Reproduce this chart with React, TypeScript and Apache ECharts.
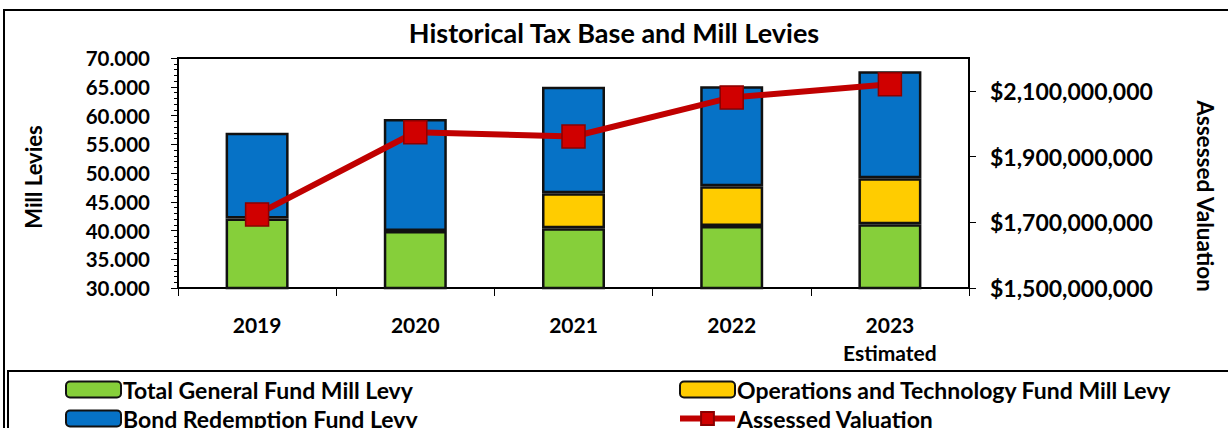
import React, { useEffect, useRef } from "react";
import * as echarts from "echarts";

const categories = ["2019", "2020", "2021", "2022", "2023\nEstimated"];
const generalFund = [42.1, 39.9, 40.4, 40.8, 41.1];
const operationsTech = [null, null, 6.1, 6.9, 8.0];
const bondRedemption = [14.9, 19.5, 18.5, 17.4, 18.6];
const assessedValuation = [1724000000, 1974000000, 1961000000, 2080000000, 2120000000];

const FONT = "Lato";

export default function App() {
  const ref = useRef<HTMLDivElement>(null);
  useEffect(() => {
    const chart = echarts.init(ref.current!, null, { renderer: "svg" });
    const barBase = {
      type: "bar",
      stack: "levy",
      barWidth: 63,
      yAxisIndex: 0,
    };
    const legendText = { fontFamily: FONT, fontWeight: "bold", fontSize: 23, color: "#000", padding: [0, 0, 0, -3] };
    chart.setOption({
      animation: false,
      backgroundColor: "#fff",
      textStyle: { fontFamily: FONT, fontWeight: "bold", color: "#000" },
      title: {
        text: "Historical Tax Base and Mill Levies",
        left: "center",
        top: 14,
        textStyle: { fontFamily: FONT, fontWeight: "bold", fontSize: 27, color: "#000" },
      },
      grid: { left: 178, right: 259, top: 58, bottom: 140, show: true, borderColor: "#000", borderWidth: 2, backgroundColor: "transparent" },
      graphic: [
        { type: "rect", shape: { x: 4, y: 10, width: 1240, height: 460 }, style: { fill: "none", stroke: "#000", lineWidth: 2 }, z: -1 },
        { type: "rect", shape: { x: 8, y: 371, width: 1240, height: 100 }, style: { fill: "#fff", stroke: "#000", lineWidth: 2 }, z: 0 },
        { type: "text", x: 33, y: 177, rotation: Math.PI / 2, style: { text: "Mill Levies", fontFamily: FONT, fontWeight: "bold", fontSize: 22, fill: "#000", align: "center", verticalAlign: "middle" } },
        { type: "text", x: 1205, y: 196, rotation: -Math.PI / 2, style: { text: "Assessed Valuation", fontFamily: FONT, fontWeight: "bold", fontSize: 22.5, fill: "#000", align: "center", verticalAlign: "middle" } },
      ],
      legend: [
        {
          data: ["Total General Fund Mill Levy", "Bond Redemption Fund Levy"],
          orient: "vertical",
          left: 65,
          top: 378,
          height: 120,
          padding: 0,
          itemWidth: 55,
          itemHeight: 16,
          itemGap: 6,
          textStyle: legendText,
        },
        {
          data: [
            "Operations and Technology Fund Mill Levy",
            { name: "Assessed Valuation", lineStyle: { width: 6, color: "#C00000" } },
          ],
          orient: "vertical",
          left: 677,
          top: 378,
          height: 120,
          padding: 0,
          itemWidth: 55,
          itemHeight: 16,
          itemGap: 6,
          textStyle: legendText,
        },
      ],
      xAxis: {
        type: "category",
        data: categories,
        axisLine: { lineStyle: { color: "#000", width: 2 } },
        axisTick: { show: true, length: 8, inside: false, lineStyle: { color: "#000" } },
        axisLabel: { margin: 22, fontFamily: FONT, fontWeight: "bold", fontSize: 21, color: "#000", lineHeight: 28 },
      },
      yAxis: [
        {
          type: "value",
          min: 30,
          max: 70,
          interval: 5,
          position: "left",
          splitLine: { show: false },
          axisLine: { show: true, lineStyle: { color: "#000", width: 2 } },
          axisTick: { show: true, length: 7, lineStyle: { color: "#000" } },
          minorTick: { show: true, splitNumber: 5, length: 4, lineStyle: { color: "#000" } },
          axisLabel: { margin: 28, fontFamily: FONT, fontWeight: "bold", fontSize: 20.5, color: "#000", formatter: (v: number) => v.toFixed(3) },
        },
        {
          type: "value",
          min: 1500000000,
          max: 2200000000,
          interval: 200000000,
          position: "right",
          splitLine: { show: false },
          axisLine: { show: true, lineStyle: { color: "#000", width: 2 } },
          axisTick: { show: true, length: 7, lineStyle: { color: "#000" } },
          axisLabel: {
            margin: 21,
            showMaxLabel: false,
            fontFamily: FONT,
            fontWeight: "bold",
            fontSize: 23,
            color: "#000",
            formatter: (v: number) => (v > 2150000000 ? "" : "$" + v.toLocaleString("en-US")),
          },
        },
      ],
      series: [
        { ...barBase, name: "Total General Fund Mill Levy", data: generalFund, itemStyle: { color: "#86CF3A", borderColor: "#111", borderWidth: 2.5 } },
        { ...barBase, name: "Operations and Technology Fund Mill Levy", data: operationsTech, itemStyle: { color: "#FFCC00", borderColor: "#111", borderWidth: 2.5 } },
        { ...barBase, name: "Bond Redemption Fund Levy", data: bondRedemption, itemStyle: { color: "#0672C6", borderColor: "#111", borderWidth: 2.5 } },
        {
          type: "line",
          name: "Assessed Valuation",
          yAxisIndex: 1,
          data: assessedValuation,
          symbol: "rect",
          symbolSize: 23,
          lineStyle: { color: "#C00000", width: 6 },
          itemStyle: { color: "#D00000", borderColor: "#8B0000", borderWidth: 1.5 },
          z: 5,
        },
      ],
    });
    return () => chart.dispose();
  }, []);
  return <div ref={ref} style={{ position: "fixed", left: 0, top: 0, width: 1228, height: 428 }} />;
}
